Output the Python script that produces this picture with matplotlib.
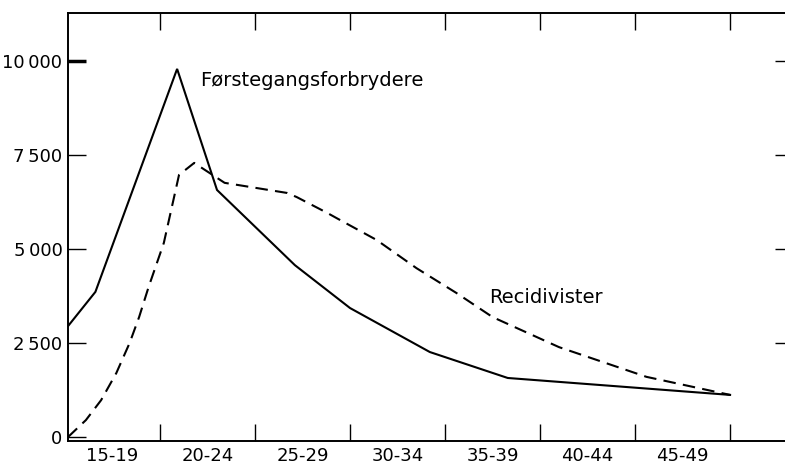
import matplotlib
matplotlib.use("Agg")
import matplotlib.pyplot as plt

# age groups and values
age_groups = ["15-19", "20-24", "25-29", "30-34", "35-39", "40-44", "45-49"]
group_edges = [20, 25, 30, 35, 40, 45, 50]
group_mids = [17.5, 22.5, 27.5, 32.5, 37.5, 42.5, 47.5]

forst_age = [15.16, 16.6, 20.9, 23.0, 27.1, 30.0, 34.2, 38.3, 50.0]
forst_val = [2950, 3860, 9790, 6570, 4570, 3430, 2260, 1570, 1120]

recid_age = [15.16, 16.1, 16.9, 17.7, 18.4, 18.9, 19.4, 20.2, 21.0, 21.8,
             23.4, 26.7, 27.2, 28.8, 29.3, 31.4, 33.5, 35.6, 37.5, 41.0,
             45.6, 50.0]
recid_val = [0, 450, 980, 1700, 2500, 3190, 3990, 5160, 6970, 7290,
             6760, 6490, 6380, 5960, 5820, 5240, 4490, 3830, 3190, 2390,
             1600, 1120]

y_ticks = [0, 2500, 5000, 7500, 10000]
y_labels = ["0", "2\u2009500", "5\u2009000", "7\u2009500", "10\u2009000"]

W, H = 785, 469
fig = plt.figure(figsize=(W / 100, H / 100), dpi=100)
ax = fig.add_axes([68 / W, (H - 441) / H, (W - 68) / W, (441 - 13) / H])

ax.plot(forst_age, forst_val, color="black", lw=1.5, solid_joinstyle="miter")
ax.plot(recid_age, recid_val, color="black", lw=1.5, dashes=(6, 3.5))

ax.set_xlim(15.158, 52.89)
ax.set_ylim(-106, 11277)

ax.spines["right"].set_visible(False)
for s in ["left", "bottom", "top"]:
    ax.spines[s].set_linewidth(1.4)

# x: tick marks on group boundaries, labels centred in groups
ax.set_xticks(group_edges)
ax.set_xticklabels([])
ax.set_xticks(group_mids, minor=True)
ax.set_xticklabels(age_groups, minor=True, fontsize=13)
ax.tick_params(axis="x", which="major", direction="in", length=12, width=1,
               top=True, bottom=True)
ax.tick_params(axis="x", which="minor", length=0, pad=4)

ax.set_yticks(y_ticks)
ax.set_yticklabels(y_labels, fontsize=13)
ax.tick_params(axis="y", direction="in", length=13, width=1, pad=4)
ax.yaxis.get_major_ticks()[-1].tick1line.set_markeredgewidth(2.5)

# short ticks on the right side, no labels
sec = ax.secondary_yaxis("right")
sec.set_yticks(y_ticks[1:])
sec.set_yticklabels([])
sec.tick_params(direction="in", length=7, width=1)
sec.spines["right"].set_visible(False)

ax.text(22.1, 9495, "Førstegangsforbrydere", fontsize=14, va="center", ha="left")
ax.text(37.3, 3700, "Recidivister", fontsize=14, va="center", ha="left")

fig.savefig("out.png", dpi=100)
